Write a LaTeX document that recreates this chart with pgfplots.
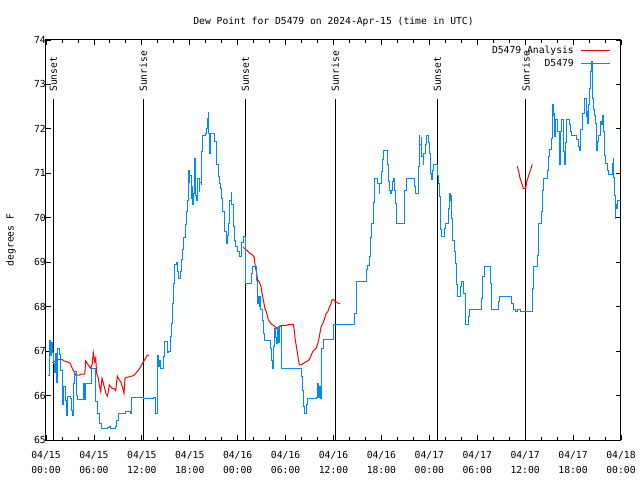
\documentclass[border=0pt]{standalone}
\usepackage{fontspec}
\setmainfont{DejaVu Sans Mono}
\usepackage{pgfplots}
\pgfplotsset{compat=1.18}
\definecolor{obsblue}{RGB}{0,136,255}
\definecolor{anred}{RGB}{255,0,0}
\begin{document}
\fontsize{9.7}{12}\selectfont
\begin{tikzpicture}
\path[use as bounding box] (0,0) rectangle (640pt,480pt);
\begin{axis}[
  at={(46pt,40pt)}, anchor=south west,
  scale only axis, width=575pt, height=400pt,
  xmin=0, xmax=72, ymin=65, ymax=74,
  axis line style={line width=1pt},
  xtick={0,6,...,72},
  xticklabels={04/15\\00:00,04/15\\06:00,04/15\\12:00,04/15\\18:00,04/16\\00:00,04/16\\06:00,04/16\\12:00,04/16\\18:00,04/17\\00:00,04/17\\06:00,04/17\\12:00,04/17\\18:00,04/18\\00:00},
  minor x tick num=2,
  ytick={65,66,...,74},
  major tick length=5pt, minor tick length=3.5pt,
  tick style={line width=0.8pt, black},
  /pgf/number format/assume math mode=true,
  tick label style={font=\fontsize{9.7}{15}\selectfont},
  xticklabel style={align=center, inner sep=0pt, yshift=-11pt},
  yticklabel style={inner sep=0pt},
  legend style={draw=none, fill=none, at={(rel axis cs:1,1)}, anchor=north east, xshift=-9pt, yshift=-3pt, font=\fontsize{9.7}{12}\selectfont, row sep=0pt, column sep=5pt, inner sep=1pt},
  legend plot pos=right,
  legend cell align=right,
  legend image code/.code={\draw[#1] (0pt,0pt) -- (29pt,0pt);},
]
% sunrise / sunset lines
\addplot[black, line width=1pt, forget plot] coordinates {(0.91,65) (0.91,72.67)};
\addplot[black, line width=1pt, forget plot] coordinates {(12.18,65) (12.18,72.67)};
\addplot[black, line width=1pt, forget plot] coordinates {(24.96,65) (24.96,72.67)};
\addplot[black, line width=1pt, forget plot] coordinates {(36.23,65) (36.23,72.67)};
\addplot[black, line width=1pt, forget plot] coordinates {(49.0,65) (49.0,72.67)};
\addplot[black, line width=1pt, forget plot] coordinates {(60.1,65) (60.1,72.67)};
\node[rotate=90, anchor=west, inner sep=0pt] at (axis cs:0.91,72.83) {Sunset};
\node[rotate=90, anchor=west, inner sep=0pt] at (axis cs:12.18,72.83) {Sunrise};
\node[rotate=90, anchor=west, inner sep=0pt] at (axis cs:24.96,72.83) {Sunset};
\node[rotate=90, anchor=west, inner sep=0pt] at (axis cs:36.23,72.83) {Sunrise};
\node[rotate=90, anchor=west, inner sep=0pt] at (axis cs:49.0,72.83) {Sunset};
\node[rotate=90, anchor=west, inner sep=0pt] at (axis cs:60.1,72.83) {Sunrise};

% D5479 Analysis (red)
\addplot[anred, line width=1pt] table {
0.79 66.74
1.21 66.78
1.63 66.81
2.04 66.81
2.25 66.78
2.67 66.76
3.01 66.73
3.29 66.61
3.51 66.54
3.72 66.46
4.13 66.46
4.35 66.48
4.85 66.48
4.97 66.78
5.17 66.72
5.60 66.61
5.80 66.72
5.92 66.97
6.10 66.76
6.22 66.84
6.35 66.50
6.55 66.39
6.67 66.24
6.85 66.09
7.01 66.39
7.18 66.28
7.35 66.16
7.51 66.05
7.68 65.99
7.76 66.05
7.93 66.24
8.10 66.20
8.30 66.16
8.51 66.16
8.73 66.11
8.93 66.44
9.14 66.36
9.35 66.31
9.55 66.20
9.77 66.05
9.89 66.39
10.11 66.41
10.39 66.42
10.81 66.44
11.02 66.46
11.23 66.50
11.43 66.54
11.65 66.59
11.86 66.65
12.06 66.72
12.27 66.78
12.48 66.84
12.68 66.91
12.94 66.91
};
\addlegendentry{D5479 Analysis}
\addplot[anred, line width=1pt, forget plot] table {
24.71 69.35
24.83 69.31
25.26 69.25
25.46 69.21
25.88 69.16
26.08 69.11
26.21 68.90
26.38 68.75
26.51 68.60
26.71 68.56
26.92 68.45
27.05 68.30
27.21 68.15
27.42 67.96
27.64 67.85
27.84 67.70
28.18 67.62
28.39 67.59
28.68 67.55
28.89 67.51
29.09 67.54
29.34 67.57
29.64 67.58
30.05 67.58
30.47 67.60
30.97 67.60
31.09 67.47
31.22 67.25
31.39 67.06
31.56 66.87
31.72 66.69
31.93 66.69
32.14 66.71
32.35 66.74
32.56 66.76
32.77 66.78
32.97 66.81
33.18 66.90
33.40 66.99
33.60 67.03
33.81 67.06
34.02 67.16
34.22 67.32
34.44 67.54
34.65 67.62
34.85 67.71
35.06 67.84
35.27 67.88
35.48 67.98
35.69 68.07
35.81 68.15
35.98 68.16
36.19 68.12
36.40 68.10
36.56 68.08
36.85 68.07
};
\addplot[anred, line width=1pt, forget plot] table {
59.02 71.16
59.19 71.04
59.36 70.89
59.57 70.78
59.77 70.66
60.07 70.66
60.20 70.81
60.40 70.93
60.61 71.04
60.90 71.20
};

% D5479 (blue)
\addplot[obsblue, line width=1pt, const plot] table {
0.25 66.46
0.50 67.25
0.59 66.90
0.66 67.20
0.79 66.96
0.91 66.73
1.09 66.53
1.21 66.95
1.34 66.30
1.50 67.07
1.67 66.92
1.84 66.57
2.04 65.79
2.25 66.20
2.38 65.90
2.54 65.56
2.75 65.97
3.01 65.93
3.17 65.67
3.29 65.56
3.42 66.28
3.59 66.54
3.79 66.00
3.92 65.92
4.67 66.28
4.80 65.92
4.97 66.28
5.67 66.62
6.01 66.60
6.22 65.86
6.42 65.60
6.64 65.38
6.92 65.27
7.68 65.28
7.89 65.30
8.10 65.27
8.73 65.30
8.85 65.45
9.05 65.60
9.98 65.64
10.52 65.60
10.68 65.96
12.27 65.93
13.52 65.95
13.71 65.60
13.94 66.91
14.06 66.65
14.19 66.80
14.36 66.60
14.69 66.87
14.81 67.21
15.24 66.96
15.36 67.00
15.53 67.32
15.74 67.63
15.87 68.07
15.94 68.52
16.15 68.94
16.37 69.00
16.49 68.79
16.65 68.64
16.87 68.80
16.99 69.07
17.12 69.28
17.28 69.56
17.41 69.84
17.62 70.14
17.74 70.40
17.87 71.07
17.94 70.80
18.03 70.96
18.16 70.44
18.28 70.70
18.37 70.29
18.45 70.55
18.57 71.34
18.70 70.51
18.87 70.40
19.00 70.89
19.16 70.60
19.28 70.80
19.41 70.75
19.53 71.49
19.62 71.86
19.91 71.90
20.04 72.01
20.20 72.24
20.32 72.37
20.41 71.90
20.50 71.45
20.62 71.90
20.95 71.90
21.08 71.71
21.29 71.49
21.41 71.19
21.58 70.93
21.70 70.78
21.88 70.66
22.00 70.44
22.13 70.14
22.29 69.88
22.41 69.69
22.54 69.43
22.67 69.60
22.79 69.88
22.92 70.10
23.04 70.40
23.17 70.57
23.29 70.30
23.42 69.80
23.58 69.50
23.75 69.35
23.95 69.24
24.17 69.16
24.29 69.12
24.42 69.35
24.54 69.45
24.67 69.57
24.92 69.09
24.96 68.52
25.67 68.75
25.80 68.90
26.30 68.90
26.42 68.60
26.51 68.07
26.63 68.22
26.71 68.00
26.80 68.22
26.92 67.93
27.05 67.70
27.21 67.40
27.34 67.25
28.14 67.06
28.26 66.80
28.34 66.61
28.46 67.10
28.59 67.51
28.71 67.30
28.84 67.18
29.01 67.50
29.14 67.20
29.30 67.55
29.43 67.10
29.55 66.61
32.02 66.42
32.14 66.12
32.27 65.75
32.39 65.60
32.68 65.79
32.77 65.94
33.81 65.96
34.02 66.28
34.15 65.96
34.22 66.20
34.31 65.94
34.44 66.42
34.56 67.06
34.72 67.26
36.00 67.59
38.61 67.85
38.82 68.09
38.91 68.56
40.07 68.83
40.28 68.92
40.48 69.14
40.61 69.56
40.78 69.88
40.99 70.34
41.11 70.89
41.54 70.78
41.70 70.55
41.82 70.78
41.99 71.04
42.11 71.32
42.24 71.52
42.57 71.52
42.70 71.19
42.83 70.81
42.99 70.62
43.11 70.55
43.29 70.62
43.41 70.81
43.54 70.89
43.61 70.62
43.74 70.33
43.86 70.03
43.91 69.88
44.83 70.33
44.95 70.62
45.08 70.89
46.12 70.70
46.29 70.55
46.62 71.15
46.75 71.86
46.83 71.64
46.96 71.80
47.08 71.37
47.21 71.19
47.33 71.45
47.46 71.64
47.59 71.86
47.92 71.70
48.00 71.45
48.09 71.22
48.17 71.00
48.25 70.87
48.37 71.07
48.50 71.21
49.05 70.96
49.12 70.78
49.25 70.47
49.34 70.03
49.42 69.74
49.55 69.57
49.88 69.76
50.00 69.88
50.38 70.21
50.50 70.55
50.59 70.40
50.68 70.50
50.80 69.99
50.93 69.50
51.09 69.24
51.30 68.98
51.43 68.49
51.55 68.22
51.93 68.45
52.05 68.56
52.34 68.30
52.47 67.85
52.59 67.59
52.88 67.77
53.01 67.93
54.56 68.19
54.68 68.67
54.85 68.90
55.60 68.52
55.76 67.93
56.60 68.11
56.76 68.24
58.27 68.07
58.52 67.94
58.73 67.90
59.02 67.93
59.36 67.90
60.86 67.90
60.95 68.41
61.02 68.90
61.57 69.16
61.70 69.88
62.02 70.14
62.15 70.62
62.27 70.89
62.74 71.07
62.90 71.37
63.03 71.54
63.24 71.79
63.45 72.54
63.53 72.31
63.61 72.35
63.70 71.82
63.78 72.20
64.03 71.94
64.24 71.49
64.33 71.19
64.40 71.94
64.53 72.20
64.74 71.94
64.86 71.49
64.95 71.19
65.03 71.70
65.12 72.20
65.53 72.10
65.70 71.94
65.83 71.86
66.45 71.75
66.70 71.60
66.78 71.52
66.91 71.80
66.99 71.98
67.12 72.27
67.24 72.35
67.37 72.57
67.49 72.69
67.62 72.27
67.74 72.40
67.83 72.12
67.96 72.54
68.03 72.91
68.12 73.10
68.21 73.29
68.28 73.51
68.37 73.21
68.46 72.69
68.53 72.43
68.62 72.31
68.75 72.12
68.87 71.86
68.96 71.52
69.08 71.71
69.21 71.86
69.46 72.16
69.58 72.10
69.66 72.31
69.75 72.20
69.83 71.94
69.91 71.41
70.04 71.22
70.29 71.07
70.41 70.98
70.84 70.98
70.91 71.22
71.00 71.34
71.09 70.90
71.16 70.51
71.25 69.99
71.34 70.29
71.42 70.20
71.54 70.38
72.00 70.38
};
\addlegendentry{D5479}
\end{axis}
\node at (333.5pt,458pt) {Dew Point for D5479 on 2024-Apr-15 (time in UTC)};
\node[rotate=90] at (11pt,240pt) {degrees F};
\end{tikzpicture}
\end{document}
